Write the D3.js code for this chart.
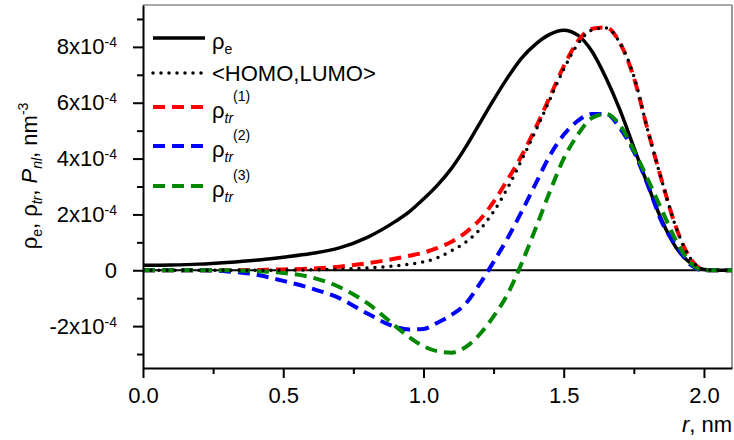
<!DOCTYPE html>
<html>
<head>
<meta charset="utf-8">
<script src="https://cdn.jsdelivr.net/npm/d3@7"></script>
<style>
  body { margin: 0; background: #fff; }
  svg text { font-family: Arial, "Liberation Sans", sans-serif; fill: #000; }
</style>
</head>
<body>
<svg id="chart" width="734" height="440"></svg>
<script>
// radial grid, nm
const radius = [0, 0.1, 0.2, 0.3, 0.4, 0.5, 0.6, 0.7, 0.8, 0.9, 0.95, 1.0, 1.05, 1.1, 1.15, 1.2, 1.25,
  1.3, 1.35, 1.4, 1.45, 1.5, 1.55, 1.6, 1.65, 1.7, 1.75, 1.8, 1.85, 1.9, 1.95, 2.0, 2.05, 2.1];

// densities, in units of 1e-4 nm^-3
const rhoE = [0.18, 0.19, 0.22, 0.28, 0.36, 0.47, 0.6, 0.8, 1.18, 1.75, 2.1, 2.55, 3.05, 3.65, 4.4, 5.25, 6.1,
  6.9, 7.6, 8.1, 8.45, 8.6, 8.42, 7.85, 6.9, 5.75, 4.4, 3.05, 1.78, 0.82, 0.27, 0.03, 0, 0];
const homoLumo = [0, 0, 0, 0, 0, 0.005, 0.015, 0.035, 0.08, 0.16, 0.22, 0.3, 0.45, 0.7, 1.0, 1.45, 2.1,
  2.95, 3.95, 5.0, 6.1, 7.2, 8.1, 8.6, 8.68, 8.15, 6.95, 5.0, 3.2, 1.55, 0.45, 0.02, 0, 0];
const rhoTr1 = [0, 0, 0, 0, 0.01, 0.03, 0.06, 0.13, 0.25, 0.42, 0.52, 0.63, 0.8, 1.02, 1.35, 1.8, 2.45,
  3.25, 4.1, 5.1, 6.2, 7.3, 8.2, 8.65, 8.7, 8.15, 6.9, 5.0, 3.2, 1.55, 0.45, 0.02, 0, 0];
const rhoTr2 = [0, 0, 0, -0.04, -0.15, -0.38, -0.65, -1.0, -1.55, -2.03, -2.12, -2.1, -1.88, -1.6, -1.2, -0.5, 0.3,
  1.15, 2.1, 3.1, 4.1, 4.85, 5.35, 5.6, 5.6, 5.1, 4.25, 3.05, 1.72, 0.9, 0.22, 0, 0, 0];
const rhoTr3 = [0, 0, 0, 0, -0.03, -0.1, -0.25, -0.6, -1.18, -2.0, -2.4, -2.72, -2.9, -2.95, -2.75, -2.3, -1.65,
  -0.85, 0.25, 1.5, 2.8, 4.0, 4.85, 5.45, 5.6, 5.2, 4.3, 3.25, 2.15, 1.07, 0.28, 0, 0, 0];

const xTicks = [0, 0.5, 1.0, 1.5, 2.0];
const xMinorTicks = [0.25, 0.75, 1.25, 1.75];
const yTicks = [-2, 0, 2, 4, 6, 8];
const yMinorTicks = [-3, -1, 1, 3, 5, 7, 9];

const svg = d3.select('#chart');
const plotLeft = 143, plotRight = 732, plotTop = 5, plotBottom = 368;

const x = d3.scaleLinear().domain([0, 2.1]).range([plotLeft, plotRight]);
const y = d3.scaleLinear().domain([-3.5, 9.5]).range([plotBottom, plotTop]);

// series: drawn in this order, legend order is separate
const series = [
  { name: 'rhoE', values: rhoE, color: '#000', width: 3.5, dash: null },
  { name: 'tr1', values: rhoTr1, color: '#f00', width: 4, dash: '12,7' },
  { name: 'tr2', values: rhoTr2, color: '#00f', width: 4, dash: '12,7' },
  { name: 'tr3', values: rhoTr3, color: '#080', width: 4, dash: '12,7' },
  { name: 'homo', values: homoLumo, color: '#000', width: 3.5, dash: '0,8' }
];
const legendOrder = ['rhoE', 'homo', 'tr1', 'tr2', 'tr3'];

// clip to plot box
svg.append('clipPath').attr('id', 'plot-clip')
  .append('rect').attr('x', plotLeft).attr('y', plotTop)
  .attr('width', plotRight - plotLeft).attr('height', plotBottom - plotTop);

// frame: top and right in grey
svg.append('line').attr('x1', plotLeft).attr('x2', plotRight).attr('y1', plotTop).attr('y2', plotTop)
  .attr('stroke', '#555').attr('stroke-width', 1.2);
svg.append('line').attr('x1', plotRight).attr('x2', plotRight).attr('y1', plotTop).attr('y2', plotBottom)
  .attr('stroke', '#999').attr('stroke-width', 2);

// zero line
svg.append('line').attr('x1', plotLeft).attr('x2', plotRight).attr('y1', y(0)).attr('y2', y(0))
  .attr('stroke', '#000').attr('stroke-width', 2);

const line = d3.line()
  .x((d, i) => x(radius[i]))
  .y(d => y(d))
  .curve(d3.curveMonotoneX);

const plot = svg.append('g').attr('clip-path', 'url(#plot-clip)');
series.forEach(s => {
  plot.append('path')
    .datum(s.values)
    .attr('d', line)
    .attr('fill', 'none')
    .attr('stroke', s.color)
    .attr('stroke-width', s.width)
    .attr('stroke-dasharray', s.dash)
    .attr('stroke-linecap', s.dash === '0,8' ? 'round' : 'butt');
});

// axes
function styleAxis(g) {
  g.select('.domain').attr('stroke-width', 2);
  g.selectAll('.tick line').attr('stroke-width', 2);
  g.selectAll('.tick text').style('font-size', '22px').attr('fill', '#000');
}

svg.append('g').attr('transform', `translate(0,${plotBottom})`)
  .call(d3.axisBottom(x).tickValues(xMinorTicks).tickSize(6).tickSizeOuter(0).tickFormat(''))
  .call(g => g.select('.domain').remove())
  .call(styleAxis);
svg.append('g').attr('transform', `translate(0,${plotBottom})`)
  .call(d3.axisBottom(x).tickValues(xTicks).tickSize(10).tickSizeOuter(0).tickPadding(9).tickFormat(d3.format('.1f')))
  .call(styleAxis);

svg.append('g').attr('transform', `translate(${plotLeft},0)`)
  .call(d3.axisLeft(y).tickValues(yMinorTicks).tickSize(6).tickSizeOuter(0).tickFormat(''))
  .call(g => g.select('.domain').remove())
  .call(styleAxis);
const yAxis = svg.append('g').attr('transform', `translate(${plotLeft},0)`)
  .call(d3.axisLeft(y).tickValues(yTicks).tickSize(10).tickSizeOuter(0).tickPadding(16))
  .call(styleAxis);

// y tick labels as Nx10^-4
yAxis.selectAll('.tick text').each(function(d) {
  const t = d3.select(this).text(null);
  if (d === 0) { t.text('0'); return; }
  t.append('tspan').text(d + 'x10');
  t.append('tspan').attr('dy', '-0.5em').style('font-size', '14px').text('-4');
});

// axis titles
const yTitle = svg.append('text')
  .attr('transform', 'translate(37,176) rotate(-90)')
  .attr('text-anchor', 'middle')
  .style('font-size', '22px');
yTitle.append('tspan').text('ρ');
yTitle.append('tspan').attr('dy', 5).style('font-size', '14px').text('e');
yTitle.append('tspan').attr('dy', -5).text(', ρ');
yTitle.append('tspan').attr('dy', 5).style('font-size', '14px').style('font-style', 'italic').text('tr');
yTitle.append('tspan').attr('dy', -5).text(', ');
yTitle.append('tspan').style('font-style', 'italic').text('P');
yTitle.append('tspan').attr('dy', 5).style('font-size', '14px').style('font-style', 'italic').text('nl');
yTitle.append('tspan').attr('dy', -5).text(', nm');
yTitle.append('tspan').attr('dy', -9).style('font-size', '14px').text('-3');

const xTitle = svg.append('text')
  .attr('x', 732).attr('y', 432)
  .attr('text-anchor', 'end')
  .style('font-size', '22px');
xTitle.append('tspan').style('font-style', 'italic').text('r');
xTitle.append('tspan').text(', nm');

// legend
const legendRows = [38, 73, 107, 146, 186];
const legendLabels = {
  rhoE: t => { t.append('tspan').text('ρ'); t.append('tspan').attr('dy', 5).style('font-size', '14px').text('e'); },
  homo: t => { t.text('<HOMO,LUMO>'); },
  tr1: t => trLabel(t, '(1)'),
  tr2: t => trLabel(t, '(2)'),
  tr3: t => trLabel(t, '(3)')
};
function trLabel(t, sup) {
  t.append('tspan').text('ρ');
  t.append('tspan').attr('dy', 5).style('font-size', '14px').style('font-style', 'italic').text('tr');
  t.append('tspan').attr('dy', -22).style('font-size', '14px').text(sup);
}

legendOrder.forEach((key, i) => {
  const s = series.find(d => d.name === key);
  const ly = legendRows[i];
  svg.append('line')
    .attr('x1', 153).attr('x2', 205).attr('y1', ly).attr('y2', ly)
    .attr('stroke', s.color)
    .attr('stroke-width', s.width)
    .attr('stroke-dasharray', s.dash)
    .attr('stroke-linecap', s.dash === '0,8' ? 'round' : 'butt');
  const t = svg.append('text')
    .attr('x', 212).attr('y', ly + (key === 'homo' ? 8 : 11))
    .style('font-size', '22px');
  legendLabels[key](t);
});
</script>
</body>
</html>
